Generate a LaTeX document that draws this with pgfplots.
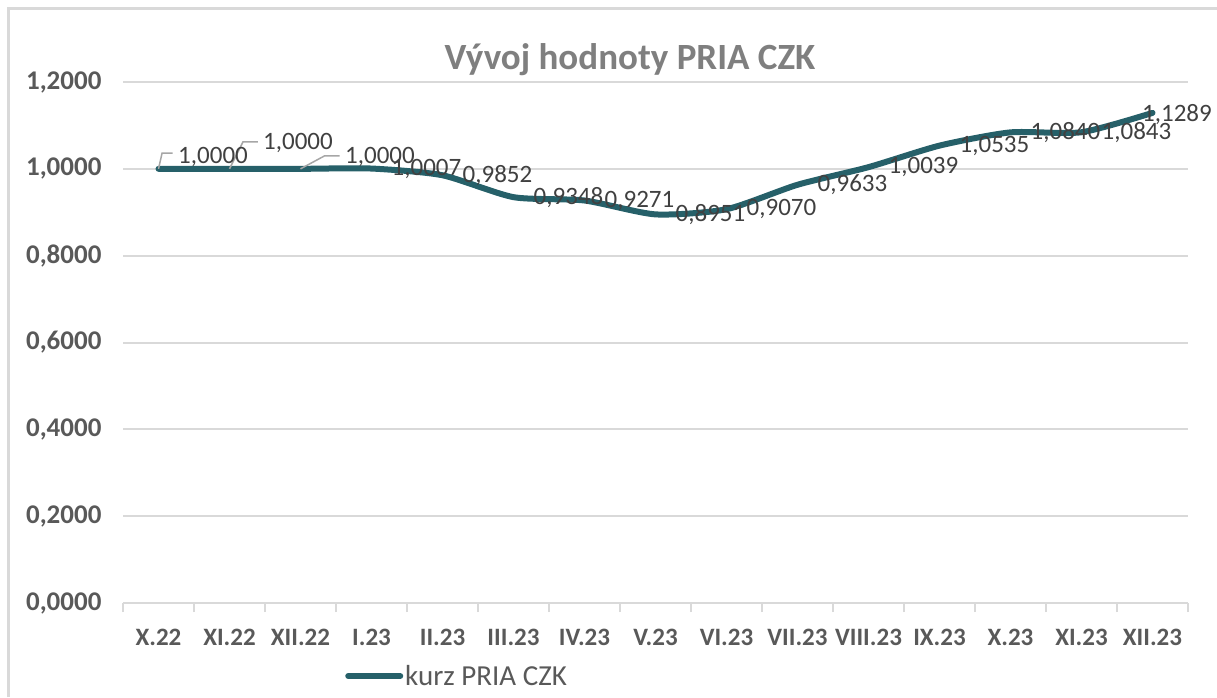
\documentclass[border=0pt]{standalone}
\usepackage{pgfplots}
\pgfplotsset{compat=1.18}
\usepackage{fontspec}
\setmainfont{Carlito}
\definecolor{lineteal}{RGB}{38,96,105}
\definecolor{gridgray}{RGB}{217,217,217}
\definecolor{ticktext}{RGB}{89,89,89}
\definecolor{labeltext}{RGB}{64,64,64}
\definecolor{titlegray}{RGB}{127,127,127}
\definecolor{leadergray}{RGB}{166,166,166}
\begin{document}
\begin{tikzpicture}[x=1pt,y=1pt]
\useasboundingbox (0,0) rectangle (1217,-697);
\draw[gridgray, line width=3pt] (8,-697) -- (8,-8) -- (1217,-8);
\node[font=\fontsize{37}{42}\selectfont\bfseries, text=titlegray] at (630,-60) {Vývoj hodnoty PRIA CZK};
\begin{axis}[
  at={(123pt,-603pt)}, anchor=south west,
  scale only axis, width=1065pt, height=521pt,
  xmin=-0.5, xmax=14.5, ymin=0, ymax=1.2,
  axis x line*=bottom, axis y line*=left,
  y axis line style={draw=none},
  x axis line style={draw=gridgray, line width=2pt},
  xtick={0,...,14},
  xticklabels={X.22,XI.22,XII.22,I.23,II.23,III.23,IV.23,V.23,VI.23,VII.23,VIII.23,IX.23,X.23,XI.23,XII.23},
  minor xtick={-0.5,0.5,...,14.5},
  tick align=outside,
  major tick length=0pt, minor tick length=9pt,
  minor tick style={draw=gridgray, line width=2pt},
  ytick={0,0.2,...,1.2},
  ytick style={draw=none},
  yticklabels={{0,0000},{0,2000},{0,4000},{0,6000},{0,8000},{1,0000},{1,2000}},
  ymajorgrids, grid style={draw=gridgray, line width=2pt},
  ticklabel style={font=\fontsize{25}{30}\selectfont\bfseries, text=ticktext},
  yticklabel style={xshift=-18pt, font=\fontsize{27}{32}\selectfont\bfseries},
  xticklabel style={yshift=-23pt},
  legend style={at={(0.2085,-0.140)}, anchor=west, draw=none, fill=none,
    font=\fontsize{29}{34}\selectfont, text=ticktext, inner sep=0pt},
  legend image code/.code={\draw[line width=6pt, lineteal, line cap=round] (0pt,0pt) -- (52pt,0pt);},
  clip=false,
]
\addplot[lineteal, line width=6pt, smooth, tension=0.4, line cap=round] coordinates {
(0,1.0000) (1,1.0000) (2,1.0000) (3,1.0007) (4,0.9852) (5,0.9348) (6,0.9271) (7,0.8951)
(8,0.9070) (9,0.9633) (10,1.0039) (11,1.0535) (12,1.0840) (13,1.0843) (14,1.1289)};
\addlegendentry{kurz PRIA CZK}
\addplot[draw=none, mark=none, forget plot, point meta=explicit symbolic,
  nodes near coords,
  nodes near coords style={anchor=west, xshift=20pt, inner sep=0pt,
    font=\fontsize{25}{30}\selectfont, text=labeltext}] coordinates {
(3,1.0007) [{1,0007}] (4,0.9852) [{0,9852}] (5,0.9348) [{0,9348}] (6,0.9271) [{0,9271}]
(7,0.8951) [{0,8951}] (8,0.9070) [{0,9070}] (9,0.9633) [{0,9633}] (10,1.0039) [{1,0039}]
(11,1.0535) [{1,0535}] (12,1.0840) [{1,0840}] (13,1.0843) [{1,0843}]};
\draw[leadergray, line width=1.5pt] (axis cs:0,1.0) -- (axis cs:0.05,1.036) -- (axis cs:0.2,1.036);
\draw[leadergray, line width=1.5pt] (axis cs:1,1.0) -- (axis cs:1.19,1.062) -- (axis cs:1.4,1.062);
\draw[leadergray, line width=1.5pt] (axis cs:2,1.0) -- (axis cs:2.34,1.03) -- (axis cs:2.55,1.03);
\node[anchor=west, inner sep=0pt, font=\fontsize{25}{30}\selectfont, text=labeltext] at (axis cs:0.275,1.027) {1,0000};
\node[anchor=west, inner sep=0pt, font=\fontsize{25}{30}\selectfont, text=labeltext] at (axis cs:1.472,1.059) {1,0000};
\node[anchor=west, inner sep=0pt, font=\fontsize{25}{30}\selectfont, text=labeltext] at (axis cs:2.627,1.027) {1,0000};
\node[anchor=west, inner sep=0pt, font=\fontsize{25}{30}\selectfont, text=labeltext] at (axis cs:13.852,1.126) {1,1289};
\end{axis}
\end{tikzpicture}
\end{document}
